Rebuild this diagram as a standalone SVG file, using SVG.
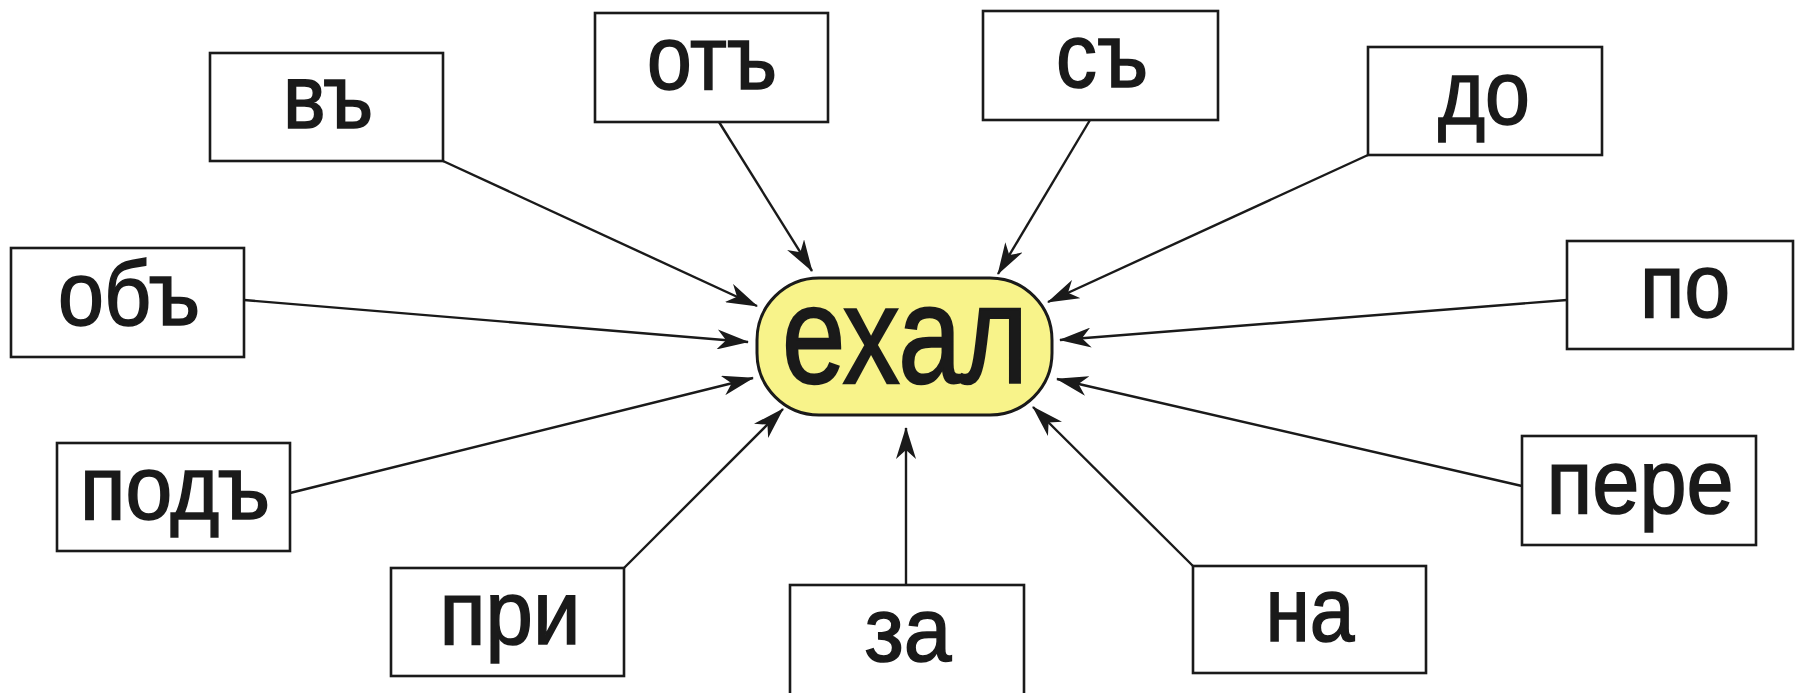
<svg xmlns="http://www.w3.org/2000/svg" width="1795" height="693" viewBox="0 0 1795 693">
<style>
.box{fill:#fff;stroke:#1a1a1a;stroke-width:2.6}
.lbl{font-family:"Liberation Sans",Arial,sans-serif;font-size:90px;fill:#1a1a1a;stroke:#1a1a1a;stroke-width:1.6;text-anchor:middle}
.con{stroke:#1a1a1a;stroke-width:2.4;fill:none;marker-end:url(#ah)}
</style>
<defs>
<marker id="ah" viewBox="0 0 32 20" refX="31" refY="10" markerWidth="32" markerHeight="20" markerUnits="userSpaceOnUse" orient="auto">
<path d="M0,0 L32,10 L0,20 L9,10 z" fill="#1a1a1a"/>
</marker>
</defs>
<rect width="1795" height="693" fill="#fff"/>
<g id="connectors">
<line class="con" x1="443" y1="161" x2="757" y2="306"/>
<line class="con" x1="719" y1="122" x2="812" y2="271"/>
<line class="con" x1="1090" y1="120" x2="998" y2="274"/>
<line class="con" x1="1368" y1="155" x2="1048" y2="302"/>
<line class="con" x1="1567" y1="300" x2="1060" y2="340"/>
<line class="con" x1="1522" y1="486" x2="1057" y2="379"/>
<line class="con" x1="1193" y1="566" x2="1033" y2="407"/>
<line class="con" x1="906" y1="585" x2="906" y2="428"/>
<line class="con" x1="624" y1="568" x2="783" y2="409"/>
<line class="con" x1="290" y1="493" x2="753" y2="378"/>
<line class="con" x1="244" y1="300" x2="748" y2="342"/>
</g>
<g id="center">
<rect x="757" y="278" width="295" height="137" rx="62" ry="62" fill="#f8f38a" stroke="#1a1a1a" stroke-width="3"/>
<text class="lbl" x="905" y="383" style="font-size:140px;stroke-width:2.4" textLength="246" lengthAdjust="spacingAndGlyphs">ехал</text>
</g>
<g id="n-v"><rect class="box" x="210" y="53" width="233" height="108"/><text class="lbl" x="328" y="128" textLength="90" lengthAdjust="spacingAndGlyphs">въ</text></g>
<g id="n-ot"><rect class="box" x="595" y="13" width="233" height="109"/><text class="lbl" x="712" y="89" textLength="130" lengthAdjust="spacingAndGlyphs">отъ</text></g>
<g id="n-s"><rect class="box" x="983" y="11" width="235" height="109"/><text class="lbl" x="1102" y="87" textLength="92" lengthAdjust="spacingAndGlyphs">съ</text></g>
<g id="n-do"><rect class="box" x="1368" y="47" width="234" height="108"/><text class="lbl" x="1484" y="124" textLength="92" lengthAdjust="spacingAndGlyphs">до</text></g>
<g id="n-po"><rect class="box" x="1567" y="241" width="226" height="108"/><text class="lbl" x="1685" y="317" textLength="90" lengthAdjust="spacingAndGlyphs">по</text></g>
<g id="n-pere"><rect class="box" x="1522" y="436" width="234" height="109"/><text class="lbl" x="1640" y="513" textLength="187" lengthAdjust="spacingAndGlyphs">пере</text></g>
<g id="n-na"><rect class="box" x="1193" y="566" width="233" height="107"/><text class="lbl" x="1310" y="641" textLength="89" lengthAdjust="spacingAndGlyphs">на</text></g>
<g id="n-za"><rect class="box" x="790" y="585" width="234" height="110"/><text class="lbl" x="908" y="661" textLength="87" lengthAdjust="spacingAndGlyphs">за</text></g>
<g id="n-pri"><rect class="box" x="391" y="568" width="233" height="108"/><text class="lbl" x="510" y="644" textLength="141" lengthAdjust="spacingAndGlyphs">при</text></g>
<g id="n-pod"><rect class="box" x="57" y="443" width="233" height="108"/><text class="lbl" x="175" y="519" textLength="190" lengthAdjust="spacingAndGlyphs">подъ</text></g>
<g id="n-ob"><rect class="box" x="11" y="248" width="233" height="109"/><text class="lbl" x="129" y="325" textLength="142" lengthAdjust="spacingAndGlyphs">объ</text></g>
</svg>
